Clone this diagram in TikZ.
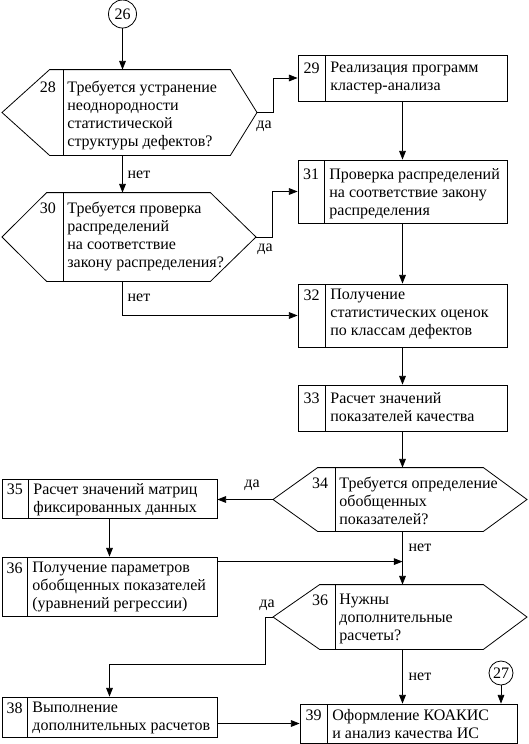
\documentclass[tikz,border=0pt]{standalone}
\usepackage{fontspec}
\setmainfont{Liberation Serif}
\usetikzlibrary{arrows.meta,calc,fit}
\tikzset{
  blk/.style={draw, inner sep=0pt},
  hexa/.style={inner sep=0pt},
  num/.style={inner sep=0pt, font=\fontsize{12}{13.5}\selectfont},
  txt/.style={inner sep=0pt, anchor=north west, align=left, font=\fontsize{12}{13.5}\selectfont},
  lbl/.style={inner sep=0pt, font=\fontsize{12}{13.5}\selectfont},
  con/.style={draw, circle, inner sep=0pt, font=\fontsize{12}{13.5}\selectfont},
  arr/.style={-{Triangle[length=6.5pt,width=5pt]}}
}
\begin{document}
\begin{tikzpicture}
% 1 unit = 1px of the 529x744 sheet, y runs down
[x=0.75pt, y=-0.75pt, line width=0.6pt]
\useasboundingbox (0,0) rectangle (529,744);
% boxes: num/left/top/right/bottom/divider/first line y/text
\foreach \n/\xa/\ya/\xb/\yb/\xd/\ny/\txt in {
  29/298/55/507/101/325/68/{Реализация программ\\кластер-анализа},
  31/298/160/507/223/324/174/{Проверка распределений\\на соответствие закону\\распределения},
  32/298/284/507/347/325/295/{Получение\\статистических оценок\\по классам дефектов},
  33/298/385/507/431/325/398/{Расчет значений\\показателей качества},
  35/2/479/217/518/28/489/{Расчет значений матриц\\фиксированных данных},
  36/2/557/217/616/27/568/{Получение параметров\\обобщенных показателей\\(уравнений регрессии)},
  38/2/697/217/737/27/708/{Выполнение\\дополнительных расчетов},
  39/300/704/517/743/327/715/{Оформление КОАКИС\\и анализ качества ИС}}{
  \node[blk, fit={(\xa,\ya) (\xb,\yb)}] (b\n) {};
  \draw (\xd,\ya) -- (\xd,\yb);
  \node[num] (b\n n) at ({(\xa+\xd)/2},\ny) {\n};
  % 5 = gap after the divider, 6 = half a line up
  \node[txt] (b\n t) at (\xd+5,\ny-6) {\txt};
}
% decisions: num/left tip/top left/top right/right tip/top/bottom/divider/first line y/text
\foreach \n/\xl/\xa/\xb/\xr/\ya/\yb/\xd/\ny/\txt in {
  28/2/50/230/257/70/155/63/87/{Требуется устранение\\неоднородности\\статистической\\структуры дефектов?},
  30/2/47/210/256/193/281/63/208/{Требуется проверка\\распределений\\на соответствие\\закону распределения?},
  34/273/318/483/527/468/531/335/483/{Требуется определение\\обобщенных\\показателей?},
  36/273/320/483/527/585/649/335/600/{Нужны\\дополнительные\\расчеты?}}{
  \node[hexa, fit={(\xa,\ya) (\xb,\yb)}] (h\n) {};
  \draw (h\n.north west) -- (h\n.north east)
    -- (\xr,{(\ya+\yb)/2}) coordinate (e\n)
    -- (h\n.south east) -- (h\n.south west)
    -- (\xl,{(\ya+\yb)/2}) coordinate (w\n) -- cycle;
  \draw (\xd,\ya) -- (\xd,\yb);
  \node[num] (h\n n) at (\xd-15,\ny) {\n};
  \node[txt] (h\n t) at (\xd+4,\ny-6) {\txt};
}
% connectors
\node[con, minimum size=21pt] (c26) at (122.5,14) {26};
\node[con, minimum size=18pt] (c27) at (501,673) {27};
\draw[arr] (c26) -- (c26 |- h28.north);
% 16 = 273-257
\draw[arr] (e28) -- ++(16,0) |- (b29.west);
\draw[arr] (c26 |- h28.south) -- (c26 |- h30.north);
\draw[arr] (e30) -- ++(16,0) |- (b31.west);
\draw[arr] (c26 |- h30.south) |- (b32.west);
\draw[arr] (b29) -- (b31);
\draw[arr] (b31) -- (b32);
\draw[arr] (b32) -- (b33);
\draw[arr] (b33) -- (b33 |- h34.north);
\draw[arr] (w34) -- (w34 -| b35.east);
\draw[arr] (b35) -- (b36);
\draw[arr] ($(b36.north east)+(0,5)$) coordinate (j36) -- (j36 -| b33);
\draw[arr] (b33 |- h34.south) -- (b33 |- h36.north);
% 47 = 665-618
\draw[arr] (w36) -- ++(-8,0) -- ++(0,47) -| (b38);
\draw[arr] (b38.east |- b39) -- (b39);
\draw[arr] (b33 |- h36.south) -- (b33 |- b39.north);
\draw[arr] (c27) -- (c27 |- b39.north);
% yes / no
\node[lbl] (da28) at (264,126) {да};
\node[lbl] (da30) at (265,249) {да};
\node[lbl] (da34) at (252,485) {да};
\node[lbl] (da36) at (267,605) {да};
\node[lbl] (net28) at (139,175) {нет};
\node[lbl] (net30) at (139,298) {нет};
\node[lbl] (net34) at (420,548) {нет};
\node[lbl] (net36) at (420,677) {нет};
\end{tikzpicture}
\end{document}
